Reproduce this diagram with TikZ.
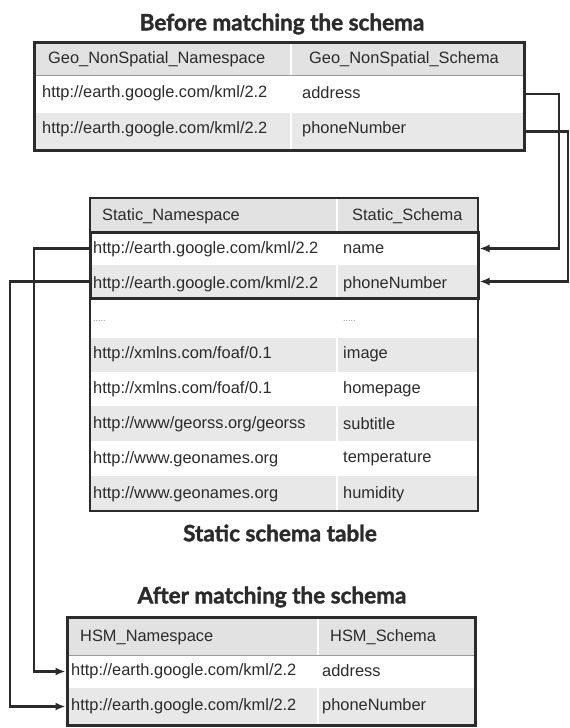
\documentclass[tikz,border=0pt]{standalone}
\usepackage{fontspec}
\setmainfont{Liberation Sans}
\newfontfamily\headfont[BoldFeatures={FakeBold=1.6}]{Lato}
\usetikzlibrary{arrows.meta}

\definecolor{ink}{HTML}{2B2B2B}
\definecolor{rowgrey}{HTML}{E8E8E8}
\definecolor{headgrey}{HTML}{E2E2E2}
\definecolor{ruleg}{HTML}{9A9A9A}
\definecolor{dotg}{HTML}{8A8A8A}

\tikzset{
  rowbox/.style={rectangle, inner sep=0pt, outer sep=0pt, anchor=north west, draw=none},
  shaded/.style={fill=rowgrey},
  headrow/.style={fill=headgrey},
  cell/.style={font=\fontsize{16.4}{16}\selectfont, text=ink, anchor=west, inner sep=0pt},
  dots/.style={font=\fontsize{9}{9}\selectfont, text=dotg, anchor=west, inner sep=0pt},
  caption/.style={font=\headfont\bfseries\fontsize{22.5}{23}\selectfont, text=ink, inner sep=0pt},
  frame/.style={draw=ink, line width=3pt},
  thinframe/.style={draw=ink, line width=2pt},
  headrule/.style={draw=ruleg, line width=1pt},
  coldiv/.style={draw=white, line width=1.5pt},
  link/.style={draw=ink, line width=2.3pt, shorten >=1.5pt,
    -{Latex[length=10pt,width=8pt]}},
}

\begin{document}
\begin{tikzpicture}[x=1pt, y=-1pt]
\useasboundingbox[fill=white] (0,0) rectangle (570,728);

% ---------------- Before matching the schema ----------------
\node[caption] (titleBefore) at (282,24) {Before matching the schema};

\node[rowbox, headrow, minimum width=490pt, minimum height=33pt] (geoHead) at (34,42) {};
\node[rowbox, minimum width=490pt, minimum height=38pt] (geoAddr) at (34,75) {};
\node[rowbox, shaded, minimum width=490pt, minimum height=37pt] (geoPhone) at (34,113) {};
\draw[coldiv] (291,42) -- (291,150);
\draw[headrule] (34,75) -- (524,75);
\draw[frame] (34,42) rectangle (524,150);

\node[cell] (geoH1) at (48,59) {Geo\_NonSpatial\_Namespace};
\node[cell] (geoH2) at (309,59) {Geo\_NonSpatial\_Schema};
\node[cell] (geoA1) at (42,93) {http://earth.google.com/kml/2.2};
\node[cell] (geoA2) at (302,93) {address};
\node[cell] (geoP1) at (42,129) {http://earth.google.com/kml/2.2};
\node[cell] (geoP2) at (302,129) {phoneNumber};

% ---------------- Static schema table ----------------
\node[rowbox, headrow, minimum width=388pt, minimum height=34pt] (stHead) at (90,198) {};
\node[rowbox, minimum width=388pt, minimum height=33pt] (stName) at (90,232) {};
\node[rowbox, shaded, minimum width=388pt, minimum height=33pt] (stPhone) at (90,265) {};
\node[rowbox, minimum width=388pt, minimum height=40pt] (stDots) at (90,298) {};
\node[rowbox, shaded, minimum width=388pt, minimum height=34pt] (stImage) at (90,338) {};
\node[rowbox, minimum width=388pt, minimum height=34pt] (stHome) at (90,372) {};
\node[rowbox, shaded, minimum width=388pt, minimum height=35pt] (stSub) at (90,406) {};
\node[rowbox, minimum width=388pt, minimum height=35pt] (stTemp) at (90,441) {};
\node[rowbox, shaded, minimum width=388pt, minimum height=35pt] (stHum) at (90,476) {};
\draw[coldiv] (337,198) -- (337,511);
\draw[thinframe] (90,198) rectangle (478,511);
\draw[frame] (90,232) rectangle (478,298);

\node[cell] (stH1) at (102,216) {Static\_Namespace};
\node[cell] (stH2) at (352,216) {Static\_Schema};
\node[cell] (stN1) at (93,249) {http://earth.google.com/kml/2.2};
\node[cell] (stN2) at (343,249) {name};
\node[cell] (stP1) at (93,284) {http://earth.google.com/kml/2.2};
\node[cell] (stP2) at (343,284) {phoneNumber};
\node[dots] (stD1) at (93,321) {.....};
\node[dots] (stD2) at (343,321) {.....};
\node[cell] (stI1) at (93,354) {http://xmlns.com/foaf/0.1};
\node[cell] (stI2) at (343,354) {image};
\node[cell] (stO1) at (93,389) {http://xmlns.com/foaf/0.1};
\node[cell] (stO2) at (343,389) {homepage};
\node[cell] (stS1) at (93,424) {http://www/georss.org/georss};
\node[cell] (stS2) at (343,424) {subtitle};
\node[cell] (stT1) at (93,459) {http://www.geonames.org};
\node[cell] (stT2) at (343,459) {temperature};
\node[cell] (stU1) at (93,494) {http://www.geonames.org};
\node[cell] (stU2) at (343,494) {humidity};

\node[caption] (titleStatic) at (280,533) {Static schema table};

% ---------------- After matching the schema ----------------
\node[caption] (titleAfter) at (272,597) {After matching the schema};

\node[rowbox, headrow, minimum width=408pt, minimum height=38pt] (hsmHead) at (67,617) {};
\node[rowbox, minimum width=408pt, minimum height=33pt] (hsmAddr) at (67,655) {};
\node[rowbox, shaded, minimum width=408pt, minimum height=37pt] (hsmPhone) at (67,688) {};
\draw[coldiv] (318,617) -- (318,725);
\draw[headrule] (67,655) -- (475,655);
\draw[frame] (67,617) rectangle (475,725);

\node[cell] (hsmH1) at (80,637) {HSM\_Namespace};
\node[cell] (hsmH2) at (330,637) {HSM\_Schema};
\node[cell] (hsmA1) at (71,671) {http://earth.google.com/kml/2.2};
\node[cell] (hsmA2) at (322,671) {address};
\node[cell] (hsmP1) at (71,706) {http://earth.google.com/kml/2.2};
\node[cell] (hsmP2) at (322,706) {phoneNumber};

% ---------------- matching links ----------------
\draw[link] (geoAddr.east) -- ++(35,0) |- (stName.east);
\draw[link] (geoPhone.east) -- ++(44,0) |- (stPhone.east);
\draw[link] (stName.west) -- ++(-56,0) |- (hsmAddr.west);
\draw[link] (stPhone.west) -- ++(-80,0) |- (hsmPhone.west);

\end{tikzpicture}
\end{document}
